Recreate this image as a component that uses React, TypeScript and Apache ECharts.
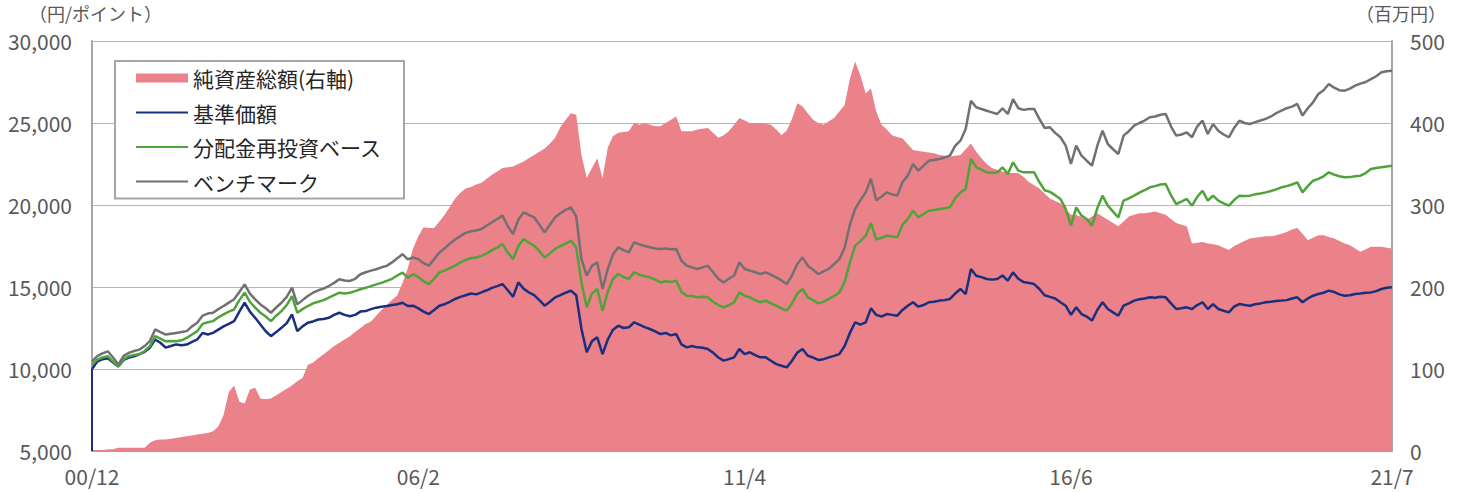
import React, { useEffect, useRef } from "react";
import * as echarts from "echarts";

// Month labels from 2000/12 to 2021/7 (YY/M)
const categories: string[] = [];
for (let y = 2000, m = 12; y < 2021 || (y === 2021 && m <= 7); ) {
  categories.push(String(y % 100).padStart(2, "0") + "/" + m);
  m++;
  if (m > 12) { m = 1; y++; }
}

const tickLabels = ["00/12", "06/2", "11/4", "16/6", "21/7"];

// 純資産総額 (百万円, right axis)
const netAssets = [
  1,1,1,2,2,4,4,4,4,4,4,10,13,14,14,15,16,17,18,19,20,21,22,24,30,44,72,80,60,58,75,77,64,63,64,68,72,76,80,85,89,
  105,108,113,118,123,128,132,136,140,145,150,155,158,165,172,178,184,190,205,223,247,
  262,273,272,272,280,288,298,308,315,320,322,325,327,332,337,341,345,346,347,350,353,357,361,365,369,375,382,395,404,412,410,
  361,333,345,357,333,370,384,388,389,390,400,398,400,398,396,396,400,404,408,390,390,390,392,393,394,388,382,385,390,398,406,
  403,400,400,400,399,398,392,385,391,405,424,420,412,404,400,398,402,406,414,422,454,475,458,436,442,414,398,392,385,383,381,
  374,367,366,365,364,363,361,360,359,360,361,368,375,365,357,350,345,343,341,339,339,339,334,328,324,320,314,308,305,302,295,
  288,288,285,282,286,290,286,282,278,274,280,286,288,290,290,291,292,290,288,283,278,276,274,253,254,255,253,252,251,248,245,
  250,253,256,259,260,261,262,262,263,265,267,270,272,265,257,260,263,263,261,259,256,253,251,247,243,246,249,249,249,248,247
];

// 基準価額 (円)
const navPrice = [
  10000,10450,10600,10650,10400,10150,10550,10700,10780,10900,11050,11300,11800,11600,11300,11400,11500,11450,11490,11650,
  11800,12200,12100,12200,12400,12600,12750,12920,13500,14040,13500,13120,12710,12300,12000,12250,12510,12800,13330,12310,
  12600,12820,12900,13020,13050,13120,13300,13430,13300,13220,13300,13500,13530,13650,13740,13800,13840,13900,13950,14040,
  13840,13860,13700,13500,13350,13600,13860,13950,14100,14270,14400,14500,14600,14550,14670,14800,14950,15050,15180,14800,
  14400,15280,14900,14670,14500,14200,13860,14100,14370,14500,14650,14780,14500,12440,11020,11700,11930,10910,11800,12400,
  12640,12500,12540,12850,12700,12550,12440,12300,12130,12200,12050,12130,11500,11320,11400,11320,11300,11220,11000,10700,
  10510,10600,10710,11220,10910,11020,10850,10710,10710,10500,10300,10200,10100,10500,11000,11220,10810,10700,10550,10600,
  10710,10800,10910,11400,12200,12840,12700,12840,13700,13300,13200,13350,13300,13250,13600,13860,14070,13800,13900,14070,
  14100,14170,14200,14270,14600,14880,14570,16100,15690,15600,15490,15450,15490,15700,15390,15890,15500,15300,15250,15180,
  14880,14500,14400,14300,14070,13860,13300,13760,13350,13200,12950,13600,14070,13660,13450,13250,13860,14000,14170,14250,
  14300,14370,14350,14400,14370,14000,13660,13700,13760,13660,13900,14070,13660,13960,13660,13550,13450,13800,13960,13900,
  13860,13950,14000,14070,14100,14150,14170,14200,14300,14370,14070,14300,14470,14570,14650,14780,14700,14550,14470,14500,
  14570,14600,14650,14670,14750,14880,14950,14980
];

// 分配金再投資ベース (円)
const reinvested = [
  10270,10570,10700,10780,10450,10160,10600,10780,10850,10900,11100,11400,12000,11850,11690,11700,11690,11750,11900,12100,
  12310,12750,12850,12920,13150,13330,13500,13630,14200,14650,14100,13740,13430,13200,12920,13250,13530,13900,14450,13430,
  13650,13840,14000,14100,14200,14350,14500,14650,14600,14650,14750,14860,14950,15050,15160,15250,15370,15500,15700,15880,
  15570,15780,15600,15350,15180,15500,15890,16000,16150,16300,16500,16650,16750,16800,16900,17050,17250,17400,17620,17100,
  16700,17500,17930,17700,17520,17200,16800,17050,17320,17500,17650,17830,17400,15280,13760,14600,14880,13560,14700,15500,
  15790,15600,15490,15890,15750,15650,15590,15450,15280,15350,15300,15390,14700,14470,14450,14370,14400,14370,14100,13900,
  13760,13900,14070,14670,14470,14370,14200,14070,14170,14000,13860,13700,13560,14000,14600,14880,14370,14200,14000,14100,
  14270,14450,14670,15300,16500,17520,17800,18130,18900,17900,18000,18130,18080,18030,18800,19150,19650,19250,19450,19650,
  19700,19760,19800,19860,20400,20770,20980,22810,22300,22150,21990,21950,21990,22300,21890,22600,22100,21990,22000,21990,
  21400,20900,20800,20600,20370,19760,18740,19860,19350,19150,18740,19800,20570,19960,19600,19250,20270,20400,20570,20750,
  20900,21080,21150,21250,21280,20600,20060,20200,20370,19960,20500,20870,20270,20570,20270,20100,19960,20300,20570,20550,
  20570,20650,20700,20770,20850,20950,21080,21150,21250,21380,20770,21150,21480,21590,21750,21990,21850,21750,21690,21700,
  21750,21790,21950,22200,22250,22300,22350,22400
];

// ベンチマーク (ポイント)
const benchmark = [
  10470,10780,10950,11080,10700,10270,10800,10980,11100,11180,11400,11700,12410,12250,12100,12150,12200,12250,12310,12600,
  12820,13250,13380,13430,13650,13840,14050,14250,14700,15160,14600,14250,13940,13700,13430,13750,14040,14400,14960,13940,
  14200,14450,14650,14800,14900,15060,15250,15470,15400,15370,15500,15780,15900,16000,16080,16200,16290,16500,16750,17000,
  16690,16800,16700,16450,16300,16700,17100,17350,17650,17900,18100,18300,18400,18450,18540,18750,18950,19150,19350,18700,
  18230,19100,19550,19400,19250,18800,18330,18800,19250,19500,19700,19860,19300,16700,15700,16300,16500,14880,16100,17000,
  17420,17250,17110,17720,17600,17500,17420,17350,17320,17350,17300,17320,16600,16300,16200,16100,16200,16300,15900,15500,
  15280,15500,15700,16500,16100,16000,15900,15790,15890,15750,15590,15400,15180,15700,16400,16810,16300,16050,15790,15950,
  16100,16400,16700,17400,18800,19760,20300,20770,21600,20300,20500,20770,20650,20570,21400,21790,22500,22090,22400,22700,
  22750,22810,22900,23010,23600,23920,24640,26360,25960,25850,25750,25650,25550,25900,25550,26460,25900,25800,25850,25860,
  25250,24700,24740,24400,24130,23620,22500,23620,23010,22700,22400,23600,24530,23720,23400,23110,24230,24500,24840,25000,
  25150,25350,25400,25500,25550,24800,24230,24300,24430,24130,24800,25140,24330,24940,24530,24300,24130,24700,25140,25000,
  24940,25050,25150,25250,25400,25600,25750,25900,26000,26160,25450,25900,26260,26770,27000,27380,27150,27000,26970,27100,
  27280,27400,27500,27680,27850,28090,28150,28190
];

const FONT = "'Noto Sans CJK JP', 'Noto Sans', sans-serif";
const LABEL = "#595959";
const PINK = "#EB8189";
const NAVY = "#1B2F7F";
const GREEN = "#4EA43A";
const GRAY = "#717171";

const hiddenDot = { opacity: 0, borderWidth: 0 };

export default function App() {
  const ref = useRef<HTMLDivElement>(null);
  useEffect(() => {
    if (!ref.current) return;
    const chart = echarts.init(ref.current, undefined, { renderer: "svg" });
    const tickIdx = tickLabels.map((t) => categories.indexOf(t));
    chart.setOption({
      animation: false,
      textStyle: { fontFamily: FONT },
      grid: { left: 92, right: 71, top: 41, bottom: 41, containLabel: false },
      legend: {
        orient: "vertical",
        left: 115,
        top: 61,
        padding: [6, 22, 6, 20],
        itemGap: 12.5,
        itemWidth: 52,
        itemHeight: 9,
        borderColor: "#A6A6A6",
        borderWidth: 2,
        backgroundColor: "#ffffff",
        textStyle: { fontSize: 21, color: "#262626", fontFamily: FONT, lineHeight: 22 },
        data: [
          { name: "純資産総額(右軸)", icon: "rect", itemStyle: { color: PINK } },
          { name: "基準価額", itemStyle: hiddenDot },
          { name: "分配金再投資ベース", itemStyle: hiddenDot },
          { name: "ベンチマーク", itemStyle: hiddenDot },
        ],
      },
      graphic: [
        {
          type: "text",
          left: 29,
          top: 2,
          style: { text: "（円/ポイント）", fontSize: 18, lineHeight: 22, fill: LABEL, fontFamily: FONT },
        },
        {
          type: "text",
          left: 1356,
          top: 2,
          style: { text: "（百万円）", fontSize: 18, lineHeight: 22, fill: LABEL, fontFamily: FONT },
        },
      ],
      xAxis: {
        type: "category",
        data: categories,
        boundaryGap: false,
        axisLine: { show: true, lineStyle: { color: "#A0A0A0", width: 2 } },
        axisTick: { show: false },
        axisLabel: {
          interval: (idx: number) => tickIdx.includes(idx),
          showMinLabel: true,
          showMaxLabel: true,
          margin: 14,
          fontSize: 21,
          color: LABEL,
          fontFamily: FONT,
        },
        splitLine: { show: false },
      },
      yAxis: [
        {
          type: "value",
          min: 5000,
          max: 30000,
          interval: 5000,
          axisLine: { show: true, lineStyle: { color: "#A6A6A6", width: 2 } },
          axisTick: { show: false },
          splitLine: { show: true, lineStyle: { color: "#B5B5B5", width: 1 } },
          axisLabel: {
            fontSize: 21,
            color: LABEL,
            margin: 20,
            fontFamily: FONT,
            formatter: (v: number) => v.toLocaleString("en-US"),
          },
        },
        {
          type: "value",
          min: 0,
          max: 500,
          interval: 100,
          axisLine: { show: true, lineStyle: { color: "#A6A6A6", width: 2 } },
          axisTick: { show: false },
          splitLine: { show: false },
          axisLabel: { fontSize: 21, color: LABEL, margin: 18, fontFamily: FONT },
        },
      ],
      series: [
        {
          name: "純資産総額(右軸)",
          type: "line",
          yAxisIndex: 1,
          data: netAssets,
          symbol: "none",
          lineStyle: { width: 0, color: PINK },
          itemStyle: { color: PINK },
          areaStyle: { color: PINK, opacity: 1 },
          z: 1,
        },
        {
          name: "基準価額",
          type: "line",
          yAxisIndex: 0,
          data: navPrice,
          symbol: "none",
          lineStyle: { width: 2.5, color: NAVY },
          itemStyle: { color: NAVY },
          z: 3,
          markLine: {
            silent: true,
            symbol: ["none", "none"],
            label: { show: false },
            lineStyle: { color: NAVY, width: 2, type: "solid" },
            data: [[{ coord: [0, 5000] }, { coord: [0, navPrice[0]] }]],
          },
        },
        {
          name: "分配金再投資ベース",
          type: "line",
          yAxisIndex: 0,
          data: reinvested,
          symbol: "none",
          lineStyle: { width: 2.5, color: GREEN },
          itemStyle: { color: GREEN },
          z: 4,
        },
        {
          name: "ベンチマーク",
          type: "line",
          yAxisIndex: 0,
          data: benchmark,
          symbol: "none",
          lineStyle: { width: 2.5, color: GRAY },
          itemStyle: { color: GRAY },
          z: 5,
        },
      ],
    });
    return () => chart.dispose();
  }, []);
  return (
    <div
      ref={ref}
      style={{ position: "absolute", left: 0, top: 0, width: 1463, height: 492 }}
    />
  );
}
